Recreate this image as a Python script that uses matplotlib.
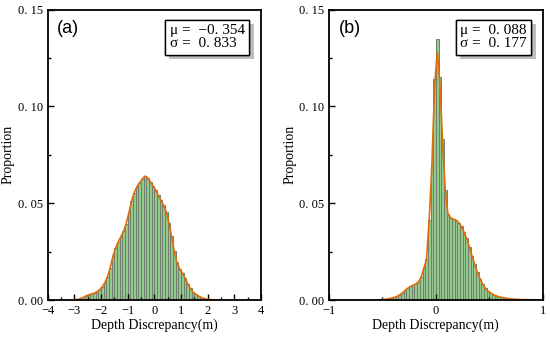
import numpy as np
import matplotlib.pyplot as plt
import matplotlib.patheffects as pe
from matplotlib.ticker import MultipleLocator, FuncFormatter

# (a) bins de 0.1 m, de -3.0 a 2.5
a_edges_start, a_width = -3.0, 0.1
a_vals = [0.0002, 0.0004, 0.0008, 0.0014, 0.0022, 0.0027, 0.0031, 0.0035, 0.0042, 0.0053,
          0.0068, 0.0090, 0.0120, 0.0165, 0.0225, 0.0268, 0.0300, 0.0327, 0.0355, 0.0395,
          0.0450, 0.0510, 0.0555, 0.0585, 0.0605, 0.0625, 0.0640, 0.0632, 0.0612, 0.0590,
          0.0570, 0.0540, 0.0515, 0.0490, 0.0455, 0.0400, 0.0330, 0.0255, 0.0195, 0.0162,
          0.0142, 0.0115, 0.0085, 0.0060, 0.0042, 0.0030, 0.0021, 0.0014, 0.0009, 0.0005,
          0.0003, 0.0002, 0.0001, 0.0001, 0.0]

# (b) bins de 0.025 m, de -0.6 a 1.0
b_edges_start, b_width = -0.6, 0.025
b_vals = [0.0, 0.0001, 0.0001, 0.0002, 0.0003, 0.0005, 0.0007, 0.0010, 0.0014, 0.0019,
          0.0027, 0.0037, 0.0049, 0.0061, 0.0070, 0.0076, 0.0083, 0.0094, 0.0118, 0.0165,
          0.0210, 0.0413, 0.0707, 0.1140, 0.1350, 0.1150, 0.0830, 0.0568, 0.0445, 0.0425,
          0.0418, 0.0412, 0.0400, 0.0380, 0.0352, 0.0318, 0.0276, 0.0228, 0.0185, 0.0145,
          0.0110, 0.0082, 0.0060, 0.0046, 0.0036, 0.0028, 0.0022, 0.0017, 0.0014, 0.0011,
          0.0009, 0.0007, 0.0005, 0.0004, 0.0003, 0.0003, 0.0002, 0.0002, 0.0002, 0.0001,
          0.0001, 0.0001, 0.0, 0.0]
# curva ajustada (b): igual às barras exceto no pico
b_curve = list(b_vals)
b_curve[22] = 0.0690
b_curve[23] = 0.1100
b_curve[24] = 0.1280
b_curve[25] = 0.1120
b_curve[26] = 0.0820

stats_a = ("−0. 354", "0. 833")
stats_b = ("0. 088", "0. 177")

serif = ['Liberation Serif', 'DejaVu Serif']
bar_color = '#93c98c'
edge_color = '#6f7f6f'
line_color = '#e36c09'


def fmt_y(v, pos):
    return "0. %02d" % round(v * 100)


def fmt_x(v, pos):
    s = "%g" % v
    return s.replace('-', '−')


fig = plt.figure(figsize=(5.5, 3.4), dpi=100)
ax1 = fig.add_axes([0.0864, 0.1176, 0.388, 0.854])
ax2 = fig.add_axes([0.598, 0.1176, 0.389, 0.854])

panels = [
    (ax1, a_edges_start, a_width, a_vals, a_vals, stats_a, "(a)", (-4, 4), 1, 0.5),
    (ax2, b_edges_start, b_width, b_vals, b_curve, stats_b, "(b)", (-1, 1), 1, 0.5),
]

for ax, start, w, vals, curve, st, tag, xlim, major, minor in panels:
    centers = start + w * (np.arange(len(vals)) + 0.5)
    ax.bar(centers, vals, width=w, color=bar_color, edgecolor=edge_color, linewidth=0.7)
    ax.plot(centers, curve, color=line_color, lw=1.2)
    ax.set_xlim(*xlim)
    ax.set_ylim(0, 0.15)
    ax.xaxis.set_major_locator(MultipleLocator(major))
    ax.xaxis.set_minor_locator(MultipleLocator(minor))
    ax.yaxis.set_major_locator(MultipleLocator(0.05))
    ax.yaxis.set_minor_locator(MultipleLocator(0.025))
    ax.yaxis.set_major_formatter(FuncFormatter(fmt_y))
    ax.xaxis.set_major_formatter(FuncFormatter(fmt_x))
    ax.tick_params(which='both', direction='in', top=False, right=False,
                   labelsize=9, width=1.0)
    ax.tick_params(which='major', length=4)
    ax.tick_params(which='minor', length=2.5)
    for lab in ax.get_xticklabels() + ax.get_yticklabels():
        lab.set_family(serif)
    for sp in ax.spines.values():
        sp.set_linewidth(1.3)
    ax.set_xlabel("Depth Discrepancy(m)", family=serif, fontsize=10, labelpad=1)
    ax.set_ylabel("Proportion", family=serif, fontsize=10, labelpad=2)
    ax.text(0.045, 0.965, tag, transform=ax.transAxes, fontsize=13,
            family=['Liberation Sans', 'DejaVu Sans'], va='top', ha='left')
    txt = "μ =  %s\nσ =  %s" % st
    t = ax.text(0.925, 0.950, txt, transform=ax.transAxes, fontsize=11, family=serif,
                va='top', ha='right', multialignment='left', linespacing=1.0,
                bbox=dict(boxstyle='square,pad=0.3', fc='white', ec='black', lw=1.0))
    # sombra cinza da caixa
    t.get_bbox_patch().set_path_effects([
        pe.withSimplePatchShadow(offset=(3, -3), shadow_rgbFace='#bdbdbd', alpha=1.0),
        pe.Normal()])

fig.savefig('out.png', dpi=100)
